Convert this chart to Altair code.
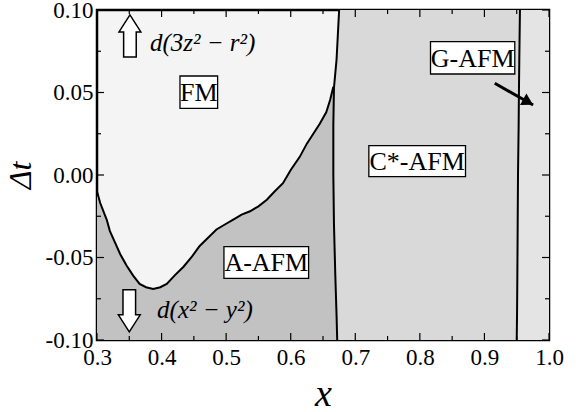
import altair as alt
import pandas as pd

# ---------------- data ----------------
# FM / A-AFM boundary curve
curve_x = [0.300, 0.305, 0.310, 0.315, 0.320, 0.328, 0.336, 0.346, 0.356, 0.366,
           0.376, 0.387, 0.398, 0.408, 0.420, 0.434, 0.446, 0.459, 0.472, 0.485,
           0.498, 0.511, 0.524, 0.537, 0.550, 0.563, 0.575, 0.588, 0.600, 0.614,
           0.625, 0.635, 0.645, 0.655, 0.661, 0.666]
curve_y = [-0.010, -0.017, -0.022, -0.027, -0.034, -0.041, -0.048, -0.055, -0.061, -0.066,
           -0.068, -0.069, -0.068, -0.066, -0.061, -0.0556, -0.050, -0.043, -0.038, -0.033,
           -0.030, -0.027, -0.024, -0.022, -0.019, -0.015, -0.010, -0.005, 0.003, 0.011,
           0.019, 0.025, 0.031, 0.038, 0.0455, 0.0535]

# vertical phase boundaries, sampled at these Δt levels
bound_dt = [0.10, 0.085, 0.070, 0.053, 0.030, 0.000, -0.030, -0.060, -0.085, -0.10]
ac_x = [0.675, 0.673, 0.671, 0.667, 0.666, 0.666, 0.667, 0.669, 0.671, 0.672]   # A / C*
cg_x = [0.955, 0.9545, 0.954, 0.9535, 0.953, 0.952, 0.9515, 0.951, 0.9505, 0.950]  # C* / G

# boxed phase labels
labels = ["FM", "A-AFM", "C*-AFM", "G-AFM"]
box_x0 = [0.4285, 0.4966, 0.721, 0.8165]
box_x1 = [0.4868, 0.6277, 0.8707, 0.947]
box_y0 = [0.0404, -0.0626, -0.001, 0.0612]
box_y1 = [0.0600, -0.0434, 0.0178, 0.0808]

# orbital annotations
orb_text = ["d(3z² − r²)", "d(x² − y²)"]
orb_x = [0.382, 0.393]
orb_y = [0.080, -0.0818]

# hollow arrows
harrow_x = [0.351, 0.350]
harrow_y = [0.0843, -0.0823]
harrow_dir = ["up", "down"]

# pointer arrow to G-AFM
parrow_x0 = [0.916]
parrow_y0 = [0.0556]
parrow_x1 = [0.9754]
parrow_y1 = [0.0424]

# axis ticks
x_major = [0.3, 0.4, 0.5, 0.6, 0.7, 0.8, 0.9, 1.0]
x_minor = [0.35, 0.45, 0.55, 0.65, 0.75, 0.85, 0.95]
y_major = [-0.10, -0.05, 0.0, 0.05, 0.10]
y_minor = [-0.075, -0.025, 0.025, 0.075]

# ---------------- chart ----------------
W, H = 452, 330
FONT = "Liberation Serif"

xs = alt.Scale(domain=[0.3, 1.0], nice=False, zero=False)
ys = alt.Scale(domain=[-0.10, 0.10], nice=False, zero=False)

x_axis = alt.Axis(values=x_major, format=".1f", ticks=False, tickSize=0, domain=False, grid=False,
                  labelFont=FONT, labelFontSize=23, labelColor="black", labelPadding=6,
                  labelFlush=False, title="x", titleFont=FONT, titleFontStyle="italic",
                  titleFontSize=38, titleFontWeight="normal", titleColor="black", titlePadding=6)
y_axis = alt.Axis(values=y_major, ticks=False, tickSize=0, domain=False, grid=False,
                  labelExpr="datum.value < -0.0001 ? '-' + format(-datum.value, '.2f') : format(abs(datum.value), '.2f')",
                  labelFont=FONT, labelFontSize=23, labelColor="black", labelPadding=4,
                  labelFlush=False, title="Δt", titleFont=FONT, titleFontStyle="italic",
                  titleFontSize=32, titleFontWeight="normal", titleColor="black", titlePadding=8)


def X(f):
    return alt.X(f, type="quantitative", scale=xs, axis=x_axis)


def Y(f):
    return alt.Y(f, type="quantitative", scale=ys, axis=y_axis)


curve_df = pd.DataFrame({"x": curve_x, "y": curve_y, "i": range(len(curve_x))})
area_df = pd.DataFrame({"x": curve_x + [max(ac_x)], "y": curve_y + [curve_y[-1]]})
bound_df = pd.DataFrame({"dt": bound_dt, "ac": ac_x, "cg": cg_x, "one": [1.0] * len(bound_dt)})
label_df = pd.DataFrame({"label": labels, "x0": box_x0, "x1": box_x1, "y0": box_y0, "y1": box_y1})
label_df["xc"] = (label_df.x0 + label_df.x1) / 2
label_df["yc"] = (label_df.y0 + label_df.y1) / 2
orb_df = pd.DataFrame({"t": orb_text, "x": orb_x, "y": orb_y})
harrow_df = pd.DataFrame({"x": harrow_x, "y": harrow_y, "d": harrow_dir})
parrow_df = pd.DataFrame({"x0": parrow_x0, "y0": parrow_y0, "x1": parrow_x1, "y1": parrow_y1})

base = alt.Chart(curve_df)

a_area = alt.Chart(area_df).mark_area(color="#c2c2c2", clip=True).encode(
    x=X("x"), y=Y("y"), y2=alt.datum(-0.10))

c_area = alt.Chart(bound_df).mark_area(orient="horizontal", color="#d9d9d9", clip=True).encode(
    y=Y("dt"), x=X("ac"), x2="cg")
g_area = alt.Chart(bound_df).mark_area(orient="horizontal", color="#e4e4e4", clip=True).encode(
    y=Y("dt"), x=X("cg"), x2="one")

curve_line = base.mark_line(color="black", strokeWidth=2).encode(
    x=X("x"), y=Y("y"), order="i:Q")
ac_line = alt.Chart(bound_df).mark_line(color="black", strokeWidth=2).encode(
    x=X("ac"), y=Y("dt"), order="dt:Q")
cg_line = alt.Chart(bound_df).mark_line(color="black", strokeWidth=2).encode(
    x=X("cg"), y=Y("dt"), order="dt:Q")

tick_layers = []
for vals, ln in ((x_major, 7), (x_minor, 4)):
    df = pd.DataFrame({"v": vals})
    tick_layers.append(alt.Chart(df).mark_rule(color="black", strokeWidth=1.2).encode(
        x=X("v"), y=alt.value(H), y2=alt.value(H - ln)))
    tick_layers.append(alt.Chart(df).mark_rule(color="black", strokeWidth=1.2).encode(
        x=X("v"), y=alt.value(0), y2=alt.value(ln)))
for vals, ln in ((y_major, 7), (y_minor, 4)):
    df = pd.DataFrame({"v": vals})
    tick_layers.append(alt.Chart(df).mark_rule(color="black", strokeWidth=1.2).encode(
        y=Y("v"), x=alt.value(0), x2=alt.value(ln)))
    tick_layers.append(alt.Chart(df).mark_rule(color="black", strokeWidth=1.2).encode(
        y=Y("v"), x=alt.value(W), x2=alt.value(W - ln)))

boxes = alt.Chart(label_df).mark_rect(fill="white", stroke="black", strokeWidth=1.3).encode(
    x=X("x0"), x2="x1", y=Y("y0"), y2="y1")
box_text = alt.Chart(label_df).mark_text(font=FONT, fontSize=26, color="black", baseline="middle",
                                         dy=1).encode(x=X("xc"), y=Y("yc"), text="label")

orb = alt.Chart(orb_df).mark_text(font=FONT, fontSize=25, fontStyle="italic", color="black",
                                  align="left", baseline="middle").encode(
    x=X("x"), y=Y("y"), text="t")

UP = "M0,-1 L0.52,-0.19 L0.3,-0.19 L0.3,1 L-0.3,1 L-0.3,-0.19 L-0.52,-0.19 Z"
DOWN = "M0,1 L0.52,0.19 L0.3,0.19 L0.3,-1 L-0.3,-1 L-0.3,0.19 L-0.52,0.19 Z"
up_arrow = alt.Chart(harrow_df).transform_filter("datum.d == 'up'").mark_point(
    shape=UP, size=1764, filled=True, fill="white", stroke="black", strokeWidth=1.5, opacity=1).encode(
    x=X("x"), y=Y("y"))
down_arrow = alt.Chart(harrow_df).transform_filter("datum.d == 'down'").mark_point(
    shape=DOWN, size=1764, filled=True, fill="white", stroke="black", strokeWidth=1.5, opacity=1).encode(
    x=X("x"), y=Y("y"))

p_line = alt.Chart(parrow_df).mark_rule(color="black", strokeWidth=3).encode(
    x=X("x0"), y=Y("y0"), x2="x1", y2="y1")
p_head = alt.Chart(parrow_df).mark_point(shape="triangle-right", angle=29.5, size=170, filled=True,
                                         color="black", opacity=1, xOffset=-5, yOffset=-3).encode(
    x=X("x1"), y=Y("y1"))

chart = alt.layer(
    a_area, c_area, g_area, curve_line, ac_line, cg_line, *tick_layers,
    boxes, box_text, orb, up_arrow, down_arrow, p_line, p_head
).properties(
    width=W, height=H,
    autosize=alt.AutoSizeParams(type="none"),
    padding={"left": 97, "top": 10, "right": 32, "bottom": 72},
    background="white",
).configure_view(
    fill="#f4f4f4", stroke="black", strokeWidth=2.5
)

chart.save("out.html", embed_options={"renderer": "svg", "actions": False})
